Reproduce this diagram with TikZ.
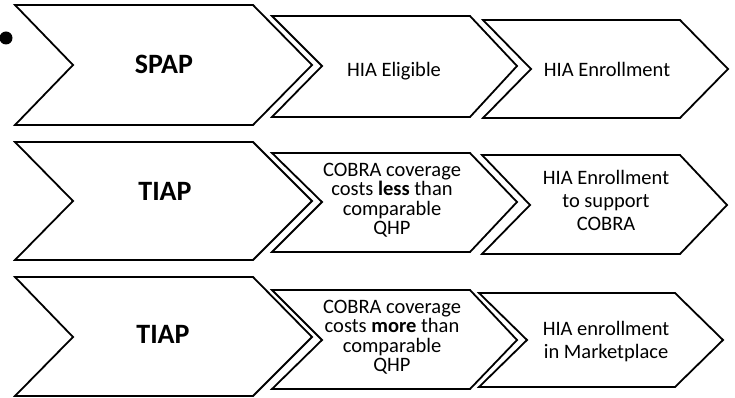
\documentclass[tikz,border=0pt]{standalone}
\usepackage{fontspec}
\setmainfont{Carlito}
\begin{document}
\begin{tikzpicture}[x=1pt,y=-1pt,
  chev/.style={draw=black,line width=1.8pt,line join=miter},
  bigtxt/.style={font=\bfseries\fontsize{28}{28}\selectfont,inner sep=0pt},
  midtxt/.style={font=\fontsize{20.5}{19.5}\selectfont,align=center,inner sep=0pt},
  righttxt/.style={font=\fontsize{20.5}{23}\selectfont,align=center,inner sep=0pt}]
\useasboundingbox (0,0) rectangle (735,398);
% scan blob
\fill[black] (6,38) circle (6.5);
% row 1
\draw[chev] (15,5) -- (253,5) -- (312,65) -- (253,125) -- (15,125) -- (73,65) -- cycle;
\draw[chev] (272,16) -- (470,16) -- (517,66) -- (470,117) -- (272,117) -- (322,66) -- cycle;
\draw[chev] (483,20) -- (680,20) -- (728,69) -- (680,118) -- (483,118) -- (531,69) -- cycle;
% row 2
\draw[chev] (15,142) -- (253,142) -- (312,201) -- (253,260) -- (15,260) -- (73,201) -- cycle;
\draw[chev] (272,153) -- (470,153) -- (517,202) -- (470,252) -- (272,252) -- (322,202) -- cycle;
\draw[chev] (482,155) -- (680,155) -- (727,205) -- (680,254) -- (482,254) -- (530,205) -- cycle;
% row 3
\draw[chev] (15,277) -- (253,277) -- (312,337) -- (253,396) -- (15,396) -- (73,337) -- cycle;
\draw[chev] (272,290) -- (470,290) -- (517,340) -- (470,389) -- (272,389) -- (322,340) -- cycle;
\draw[chev] (479,293) -- (675,293) -- (723,340) -- (675,387) -- (479,387) -- (527,340) -- cycle;
% texts
\node[bigtxt,anchor=base] (spap) at (164,74) {SPAP};
\node[bigtxt,anchor=base] (tiapa) at (165,200) {TIAP};
\node[bigtxt,anchor=base] (tiapb) at (163,343) {TIAP};
\node[midtxt,anchor=base] (elig) at (394,77) {HIA Eligible};
\node[midtxt,anchor=base] (enr) at (607,77) {HIA Enrollment};
\node[midtxt] (less) at (392,200) {COBRA coverage\\costs \textbf{less} than\\comparable\\QHP};
\node[righttxt] (supp) at (606,200) {HIA Enrollment\\to support\\COBRA};
\node[midtxt] (more) at (392,337) {COBRA coverage\\costs \textbf{more} than\\comparable\\QHP};
\node[righttxt] (mkt) at (606,342) {HIA enrollment\\in Marketplace};
\end{tikzpicture}
\end{document}
